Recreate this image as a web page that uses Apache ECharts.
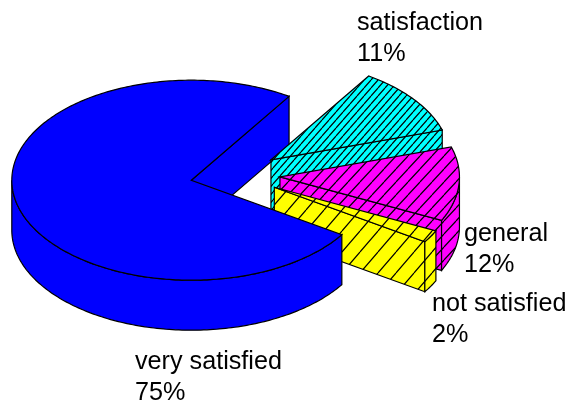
<!DOCTYPE html>
<html>
<head>
<meta charset="utf-8">
<style>
html, body { margin: 0; padding: 0; background: #fff; }
#chart_container { width: 567px; height: 403px; }
</style>
<script src="https://cdn.jsdelivr.net/npm/echarts@6/dist/echarts.min.js"></script>
</head>
<body>
<div id="chart_container"></div>
<script>
// slices in counter clockwise order, starting from startAngle
const categories = ['very satisfied', 'not satisfied', 'general', 'satisfaction'];
const values = [75, 2, 12, 11];
const tickLabels = ['75%', '2%', '12%', '11%'];
const colors = ['#0000ff', '#ffff00', '#ff00ff', '#00ffff'];
const hatchTile = [null, [18, 21], [12, 13], [7, 8]];

const startAngle = 57;
const center = [235.2, 175];
const rx = 179.5;
const ry = 100;
const thickness = 50;
const explode = 0.25;
const labelPos = [[135, 347], [432, 289], [464, 219], [357, 8]];

const total = values.reduce((a, b) => a + b, 0);
const rad = d => d * Math.PI / 180;

// angle ranges worked out from the values
let acc = startAngle;
const slices = values.map((v, i) => {
    const from = acc;
    const to = acc + v / total * 360;
    acc = to;
    const mid = rad((from + to) / 2);
    return {
        from, to,
        apex: [center[0] + explode * rx * Math.cos(mid), center[1] - explode * ry * Math.sin(mid)],
        fill: hatchTile[i] ? hatchFill(colors[i], hatchTile[i]) : colors[i],
    };
});

function hatchFill(color, [w, h]) {
    const c = document.createElement('canvas');
    c.width = w;
    c.height = h;
    const ctx = c.getContext('2d');
    ctx.fillStyle = color;
    ctx.fillRect(0, 0, w, h);
    ctx.strokeStyle = '#000';
    ctx.lineWidth = 1.2;
    ctx.beginPath();
    for (const off of [-w, 0, w]) {
        ctx.moveTo(off, h);
        ctx.lineTo(off + w, 0);
    }
    ctx.stroke();
    return {image: c, repeat: 'repeat'};
}

function rim(s, deg, dy = 0) {
    return [s.apex[0] + rx * Math.cos(rad(deg)), s.apex[1] - ry * Math.sin(rad(deg)) + dy];
}

function arc(s, a, b, dy = 0) {
    const pts = [];
    const n = Math.max(2, Math.ceil(Math.abs(b - a)));
    for (let i = 0; i <= n; i++) {
        pts.push(rim(s, a + (b - a) * i / n, dy));
    }
    return pts;
}

function poly(points, fill) {
    return {type: 'polygon', shape: {points}, style: {fill, stroke: '#000', lineWidth: 1.2}};
}

function cutFace(s, deg) {
    const a = s.apex;
    const r = rim(s, deg);
    return poly([a, r, [r[0], r[1] + thickness], [a[0], a[1] + thickness]], s.fill);
}

// only the part of the outer wall facing the viewer (180..360 degrees)
function wall(s) {
    const ranges = [];
    for (const k of [0, 360]) {
        const a = Math.max(s.from, 180 + k);
        const b = Math.min(s.to, 360 + k);
        if (b > a) ranges.push([a, b]);
    }
    return ranges.map(([a, b]) => poly([...arc(s, a, b), ...arc(s, b, a, thickness)], s.fill));
}

function topFace(s) {
    return poly([s.apex, ...arc(s, s.from, s.to)], s.fill);
}

function renderItem(params, api) {
    const s = slices[api.value(0)];
    const layer = api.value(1);
    let children;
    if (layer === 0) {
        // the blue cut face sits behind everything else
        children = [cutFace(s, s.from)];
    } else if (api.value(0) === 0) {
        children = [...wall(s), topFace(s)];
    } else {
        children = [cutFace(s, s.from), ...wall(s), topFace(s)];
    }
    return {type: 'group', children};
}

const chart = echarts.init(document.getElementById('chart_container'), null, {renderer: 'canvas'});
chart.setOption({
    animation: false,
    graphic: categories.map((name, i) => ({
        type: 'text',
        left: labelPos[i][0],
        top: labelPos[i][1],
        z: 10,
        style: {
            text: name + '\n' + tickLabels[i],
            font: '25.2px "Liberation Sans"',
            lineHeight: 31,
            fill: '#000',
        },
    })),
    series: [{
        type: 'custom',
        coordinateSystem: 'none',
        silent: true,
        renderItem,
        data: [[0, 0], [3, 1], [2, 1], [1, 1], [0, 1]],
    }],
});
</script>
</body>
</html>
